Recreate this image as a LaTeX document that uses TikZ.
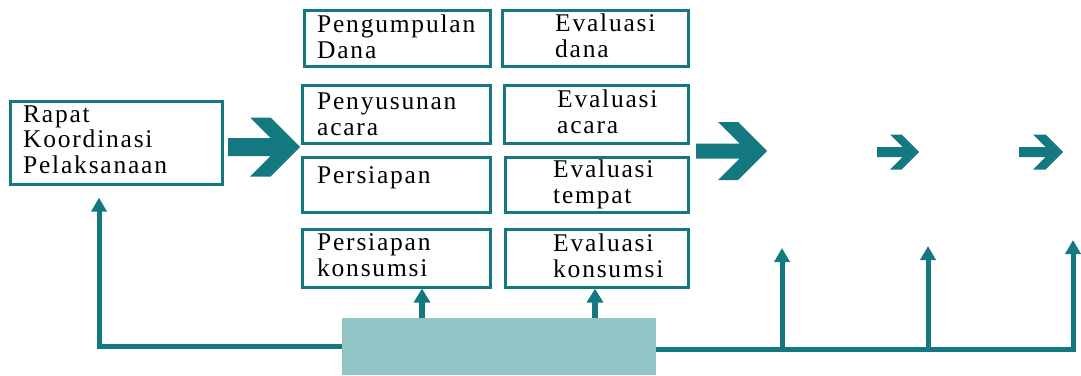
\documentclass[tikz,border=0pt]{standalone}
\usepackage{fontspec}
\setmainfont{Liberation Serif}[LetterSpace=7]
\usetikzlibrary{arrows.meta}
\definecolor{tealc}{RGB}{20,120,128}
\definecolor{lightc}{RGB}{147,196,198}
\newcommand\mychev[6]{% xs xh xt yc hh sh
 \fill[tealc] (#1,{#4-#6}) -- ({#2+#5-#6},{#4-#6}) -- (#2,{#4-#5}) -- ({#3-#5},{#4-#5}) -- (#3,#4) -- ({#3-#5},{#4+#5}) -- (#2,{#4+#5}) -- ({#2+#5-#6},{#4+#6}) -- (#1,{#4+#6}) -- cycle;}
\begin{document}
\begin{tikzpicture}[x=1pt,y=-1pt,
 box/.style={draw=tealc,line width=2.6pt,inner sep=0pt,anchor=north west},
 lbl/.style={anchor=base west,align=left,inner sep=0pt,font=\fontsize{25.5}{25.5}\selectfont},
 fbline/.style={draw=tealc,line width=5pt},
 up/.style={fbline,-{Triangle[width=15pt,length=14pt]}},
 up2/.style={draw=tealc,line width=6pt,-{Triangle[width=16pt,length=14pt]}},
]
\useasboundingbox (0,0) rectangle (1081,375);
% boxes
\node[box,minimum width=212pt,minimum height=83pt] (rapat) at (9,100) {};
\node[box,minimum width=186pt,minimum height=56pt] (pd) at (303,9) {};
\node[box,minimum width=188pt,minimum height=58pt] (pa) at (301,84) {};
\node[box,minimum width=188pt,minimum height=55pt] (pp) at (301,156) {};
\node[box,minimum width=188pt,minimum height=58pt] (pk) at (301,228) {};
\node[box,minimum width=186pt,minimum height=56pt] (ed) at (501,9) {};
\node[box,minimum width=184pt,minimum height=58pt] (ea) at (503,84) {};
\node[box,minimum width=183pt,minimum height=55pt] (et) at (504,156) {};
\node[box,minimum width=183pt,minimum height=58pt] (ek) at (504,228) {};
% texts (anchored at the baseline of the last line)
\node[lbl] (trapat) at (23,173) {Rapat\\Koordinasi\\Pelaksanaan};
\node[lbl] (tpd) at (317,58) {Pengumpulan\\Dana};
\node[lbl] (tpa) at (317,135) {Penyusunan\\acara};
\node[lbl] (tpp) at (317,183) {Persiapan};
\node[lbl] (tpk) at (317,276) {Persiapan\\konsumsi};
\node[lbl] (ted) at (555,57) {Evaluasi\\dana};
\node[lbl] (tea) at (557,133) {Evaluasi\\acara};
\node[lbl] (tet) at (553,203) {Evaluasi\\tempat};
\node[lbl] (tek) at (553,277) {Evaluasi\\konsumsi};
% chevron arrows
\mychev{228}{250}{300}{147}{29.5}{9}
\mychev{696}{718}{767}{151}{29}{7.5}
\mychev{877}{890}{919}{152}{17.5}{5}
\mychev{1019}{1033}{1063}{152}{17.5}{5}
% feedback block
\node[fill=lightc,minimum width=314pt,minimum height=57pt,anchor=north west,inner sep=0pt] (fb) at (342,318) {};
\coordinate (lc) at (99,347);
\draw[up,shorten >=12pt] (fb.west) -| (rapat.south -| lc);
\coordinate (rr) at (1076,349);
\coordinate (a1) at (782,248);
\coordinate (a2) at (928,246);
\coordinate (a3) at (1073,240);
\draw[up] (fb.east |- rr) -| (a3);
\draw[up] (a1 |- rr) -- (a1);
\draw[up] (a2 |- rr) -- (a2);
\coordinate (s1) at (422,0);
\coordinate (s2) at (595,0);
\draw[up2] (fb.north -| s1) -- (pk.south -| s1);
\draw[up2] (fb.north -| s2) -- (ek.south -| s2);
\end{tikzpicture}
\end{document}
